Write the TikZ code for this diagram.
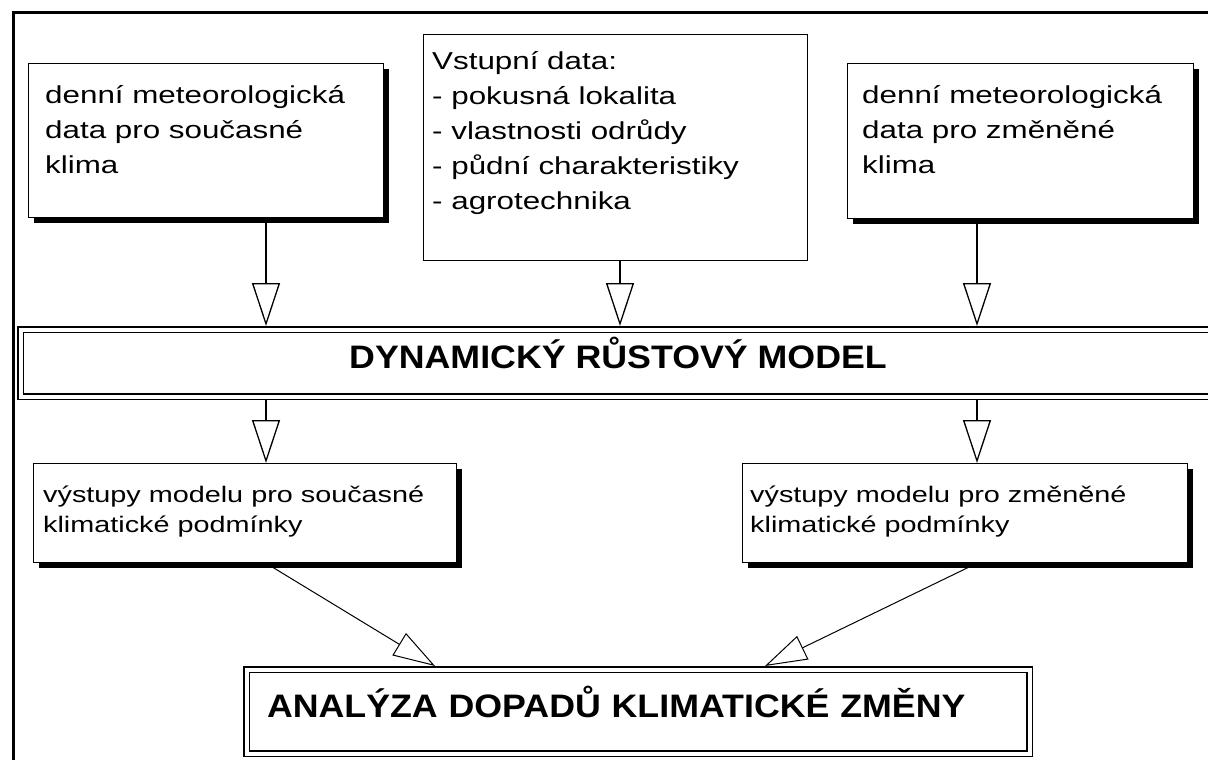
\documentclass[tikz,border=0pt]{standalone}
\usepackage{fontspec}
\setmainfont{Liberation Sans}
\newfontfamily\boxfont{Liberation Sans}[FakeStretch=1.28]
\newfontfamily\titlefont{Liberation Sans}[FakeStretch=1.1]
\usetikzlibrary{arrows.meta}
\usetikzlibrary{shadows}

\newcommand\toptextfont{\boxfont\fontsize{24.5}{35}\selectfont}
\newcommand\lowtextfont{\boxfont\fontsize{22.5}{30}\selectfont}

\tikzset{
  databox/.style={draw, line width=1.2pt, fill=white, anchor=north west, inner sep=0pt,
    drop shadow={shadow xshift=5pt, shadow yshift=-5pt, fill=black, opacity=1}},
  plainbox/.style={draw, line width=1.2pt, fill=white, anchor=north west, inner sep=0pt},
  modelbox/.style={draw, line width=1.5pt, double, double distance=4pt, fill=white,
    anchor=north west, inner sep=0pt, outer sep=3.5pt,
    font=\titlefont\bfseries\fontsize{32.5}{36}\selectfont, text height=23pt, text depth=13pt},
  % base west is the baseline of the last line
  boxtext/.style={anchor=base west, inner sep=0pt, align=left},
  flow/.style={line width=1.3pt, -{Triangle[open, length=43pt, width=28pt]}},
  merge/.style={line width=1pt, -{Triangle[open, length=42pt, width=26pt]}},
}

\begin{document}
\begin{tikzpicture}[x=1pt, y=-1pt]
  \useasboundingbox (0,0) rectangle (1208,760);
  % frame
  \draw[line width=3pt] (13,775) -- (13,13) -- (1220,13);

  % input boxes
  \node[databox, minimum width=355pt, minimum height=154pt] (cur) at (28,63) {};
  \node[plainbox, minimum width=384pt, minimum height=226pt] (inp) at (423,34) {};
  \node[databox, minimum width=346pt, minimum height=155pt] (chg) at (847,63) {};
  \node[boxtext, font=\toptextfont] (curtxt) at ([shift={(17,110)}]cur.north west)
    {denní meteorologická\\data pro současné\\klima};
  \node[boxtext, font=\toptextfont] (inptxt) at ([shift={(9,175)}]inp.north west)
    {Vstupní data:\\- pokusná lokalita\\- vlastnosti odrůdy\\- půdní charakteristiky\\- agrotechnika};
  \node[boxtext, font=\toptextfont] (chgtxt) at ([shift={(15,110)}]chg.north west)
    {denní meteorologická\\data pro změněné\\klima};

  % model
  \node[modelbox, minimum width=1195pt, minimum height=67pt] (model) at (17,326)
    {DYNAMICKÝ RŮSTOVÝ MODEL};

  % output boxes
  \node[databox, minimum width=423pt, minimum height=99pt] (outcur) at (33,463) {};
  \node[databox, minimum width=445pt, minimum height=99pt] (outchg) at (742,463) {};
  \node[boxtext, font=\lowtextfont] (outcurtxt) at ([shift={(10,69)}]outcur.north west)
    {výstupy modelu pro současné\\klimatické podmínky};
  \node[boxtext, font=\lowtextfont] (outchgtxt) at ([shift={(8,69)}]outchg.north west)
    {výstupy modelu pro změněné\\klimatické podmínky};

  % analysis
  \node[modelbox, minimum width=783pt, minimum height=84pt, text width=742pt,
    inner xsep=20.5pt, align=left, text height=24pt] (ana) at (243,666)
    {ANALÝZA DOPADŮ KLIMATICKÉ ZMĚNY};

  % connectors
  \coordinate (lx) at (266,0);
  \coordinate (cx) at (620,0);
  \coordinate (rx) at (977,0);
  \coordinate (al) at (435,0);
  \coordinate (ar) at (765,0);
  \draw[flow] (cur.south -| lx) -- (model.north -| lx);
  \draw[flow] (inp.south -| cx) -- (model.north -| cx);
  \draw[flow] (chg.south -| rx) -- (model.north -| rx);
  \draw[flow] (model.south -| lx) -- (outcur.north -| lx);
  \draw[flow] (model.south -| rx) -- (outchg.north -| rx);
  \draw[merge] (outcur.south -| lx) -- (ana.north -| al);
  \draw[merge] (outchg.south -| rx) -- (ana.north -| ar);
\end{tikzpicture}
\end{document}
